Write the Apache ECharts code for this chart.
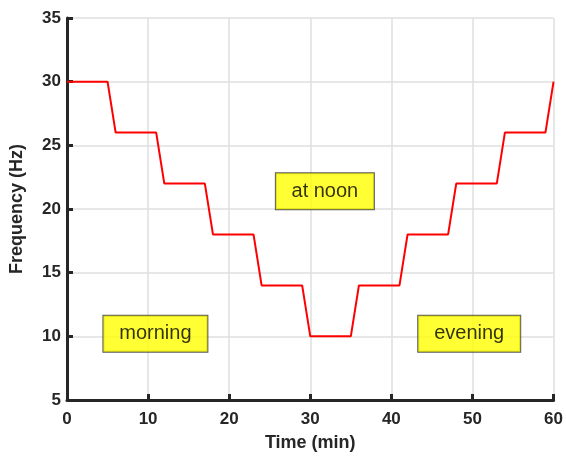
<!DOCTYPE html>
<html>
<head>
<meta charset="utf-8">
<script src="https://cdn.jsdelivr.net/npm/echarts@6/dist/echarts.min.js"></script>
<style>
  html, body { margin: 0; padding: 0; background: #fff; }
  #main { width: 566px; height: 457px; }
</style>
</head>
<body>
<div id="main"></div>
<script>
// step profile
var timeMin = [0, 5, 6, 11, 12, 17, 18, 23, 24, 29, 30, 35, 36, 41, 42, 47, 48, 53, 54, 59, 60];
var freqHz  = [30, 30, 26, 26, 22, 22, 18, 18, 14, 14, 10, 10, 14, 14, 18, 18, 22, 22, 26, 26, 30];

// text boxes: label, x, y (centre, data units)
var noteText = ['morning', 'at noon', 'evening'];
var noteX = [10.9, 31.8, 49.6];
var noteY = [10.2, 21.4, 10.2];
var noteW = [106, 100, 104];

var chart = echarts.init(document.getElementById('main'));

var lineData = timeMin.map(function (t, i) { return [t, freqHz[i]]; });
var noteData = noteText.map(function (s, i) {
    return {
        value: [noteX[i], noteY[i]],
        label: { width: noteW[i] - 2 }
    };
});

var axisColor = '#262626';
var gridColor = '#dfdfdf';
var fontFam = 'Arial, Liberation Sans, sans-serif';

chart.setOption({
    animation: false,
    grid: { left: 67, right: 8, top: 18, bottom: 57 },
    xAxis: {
        type: 'value',
        min: 0, max: 60, interval: 10,
        name: 'Time (min)',
        nameLocation: 'middle',
        nameGap: 34,
        nameTextStyle: { fontFamily: fontFam, fontWeight: 'bold', fontSize: 18, color: axisColor },
        axisLine: { onZero: false, lineStyle: { color: axisColor, width: 3 } },
        axisTick: { inside: true, length: 6, lineStyle: { color: axisColor, width: 3 } },
        axisLabel: { fontFamily: fontFam, fontWeight: 'bold', fontSize: 17, color: axisColor, margin: 11 },
        splitLine: { show: true, lineStyle: { color: gridColor, width: 1.5 } }
    },
    yAxis: {
        type: 'value',
        min: 5, max: 35, interval: 5,
        name: 'Frequency (Hz)',
        nameLocation: 'middle',
        nameGap: 41,
        nameTextStyle: { fontFamily: fontFam, fontWeight: 'bold', fontSize: 18, color: axisColor },
        axisLine: { show: true, onZero: false, lineStyle: { color: axisColor, width: 3 } },
        axisTick: { show: true, inside: true, length: 6, lineStyle: { color: axisColor, width: 3 } },
        axisLabel: { fontFamily: fontFam, fontWeight: 'bold', fontSize: 17, color: axisColor, margin: 6 },
        splitLine: { show: true, lineStyle: { color: gridColor, width: 1.5 } }
    },
    series: [{
        type: 'line',
        data: lineData,
        symbol: 'none',
        lineStyle: { color: '#ff0000', width: 2 },
        z: 3
    }, {
        type: 'scatter',
        data: noteData,
        symbolSize: 0,
        silent: true,
        z: 5,
        label: {
            show: true,
            position: 'inside',
            formatter: function (p) { return noteText[p.dataIndex]; },
            fontFamily: fontFam,
            fontSize: 20,
            color: '#000',
            backgroundColor: '#ffff00',
            borderColor: '#333',
            borderWidth: 1,
            height: 36,
            lineHeight: 36,
            align: 'center',
            verticalAlign: 'middle'
        }
    }]
});
</script>
</body>
</html>
